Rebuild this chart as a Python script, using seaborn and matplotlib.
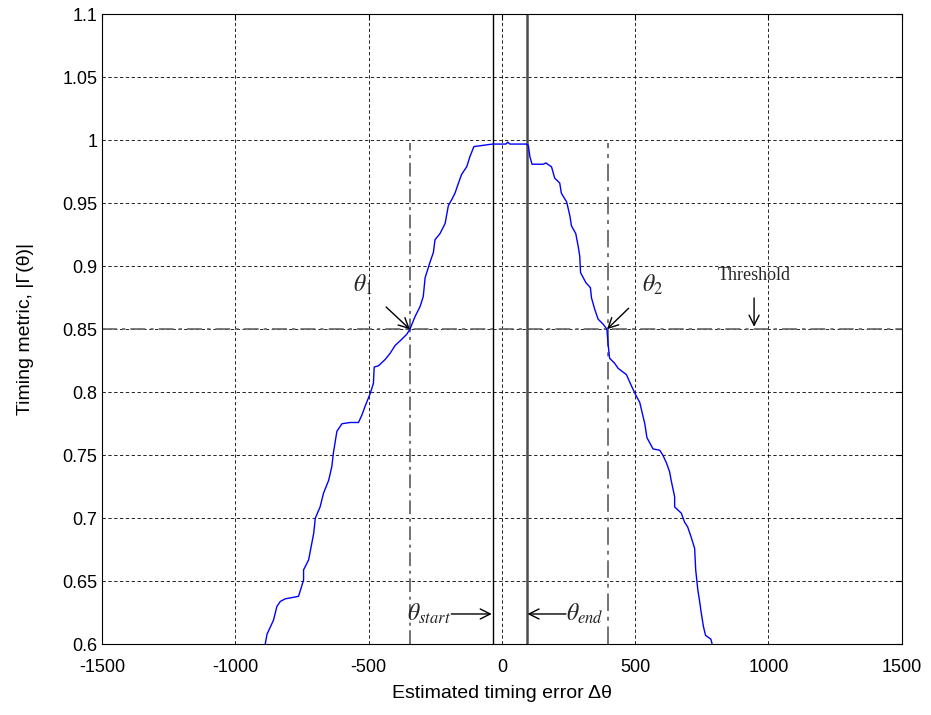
import numpy as np
import pandas as pd
import seaborn as sns
import matplotlib.pyplot as plt

# timing metric curve
curve_x = [-892, -888, -881, -857, -844, -831, -813, -763, -757, -744, -744, -725, -706,
           -700, -682, -669, -650, -638, -632, -619, -600, -569, -538, -525, -513, -494,
           -482, -479, -463, -438, -419, -401, -376, -357, -345, -326, -307, -295, -288,
           -270, -257, -251, -232, -213, -201, -188, -176, -163, -151, -132, -120, -105,
           -70, -35, 15, 22, 30, 92, 99, 105, 113, 155, 165, 186, 198, 217, 223, 243,
           255, 261, 277, 286, 292, 295, 315, 332, 336, 348, 361, 380, 394, 398, 404,
           423, 436, 467, 486, 504, 517, 527, 536, 544, 567, 592, 604, 617, 629, 635,
           648, 648, 673, 685, 697, 710, 723, 727, 735, 741, 747, 756, 764, 784, 791, 795]
curve_y = [0.595, 0.600, 0.608, 0.619, 0.630, 0.634, 0.636, 0.638, 0.642, 0.651, 0.659, 0.667, 0.688,
           0.700, 0.709, 0.720, 0.730, 0.741, 0.752, 0.769, 0.775, 0.776, 0.776, 0.782, 0.789, 0.799,
           0.807, 0.820, 0.821, 0.826, 0.831, 0.837, 0.842, 0.846, 0.850, 0.860, 0.868, 0.876, 0.891,
           0.903, 0.911, 0.921, 0.926, 0.934, 0.948, 0.953, 0.958, 0.966, 0.973, 0.979, 0.987, 0.995,
           0.996, 0.997, 0.997, 0.9985, 0.997, 0.997, 0.996, 0.987, 0.981, 0.981, 0.982, 0.979, 0.970, 0.966, 0.958, 0.951,
           0.940, 0.932, 0.926, 0.916, 0.908, 0.895, 0.887, 0.883, 0.875, 0.866, 0.858, 0.854, 0.850, 0.839, 0.827,
           0.823, 0.819, 0.814, 0.805, 0.797, 0.792, 0.783, 0.775, 0.764, 0.755, 0.754, 0.750, 0.744, 0.737, 0.730,
           0.717, 0.709, 0.704, 0.697, 0.693, 0.685, 0.676, 0.659, 0.643, 0.635, 0.626, 0.614, 0.607, 0.604, 0.598, 0.594]

threshold = 0.85
theta_1 = -345
theta_2 = 397
theta_start = -35
theta_end = 93
peak = 0.998

xticks = [-1500, -1000, -500, 0, 500, 1000, 1500]
yticks = [0.6, 0.65, 0.7, 0.75, 0.8, 0.85, 0.9, 0.95, 1.0, 1.05, 1.1]
ytick_labels = ["0.6", "0.65", "0.7", "0.75", "0.8", "0.85", "0.9", "0.95", "1", "1.05", "1.1"]

sns.set_style("white")
plt.rcParams['font.family'] = ['Liberation Sans', 'DejaVu Sans']
plt.rcParams['mathtext.fontset'] = 'stix'
plt.rcParams['axes.unicode_minus'] = False

df = pd.DataFrame({"x": curve_x, "y": curve_y})

fig = plt.figure(figsize=(9.31, 7.15), dpi=100)
ax = fig.add_axes([0.1096, 0.099, 0.859, 0.881])

sns.lineplot(data=df, x="x", y="y", sort=False, estimator=None, color=(0, 0, 1),
             linewidth=1.0, ax=ax, zorder=3)

ax.set_xlim(-1500, 1500)
ax.set_ylim(0.6, 1.1)
ax.set_xticks(xticks)
ax.set_yticks(yticks)
ax.set_yticklabels(ytick_labels)
ax.grid(True, color='k', linestyle=(0, (4, 3)), linewidth=0.6)
ax.tick_params(direction='in', top=True, right=True, length=4, labelsize=13, colors='k')
ax.tick_params(axis='x', pad=11)
for s in ax.spines.values():
    s.set_color('k')
    s.set_linewidth(0.8)

# threshold and theta markers
dashdot = (0, (9, 3, 2, 3))
ax.axhline(threshold, color='0.4', linestyle=dashdot, linewidth=1.2, zorder=2)
ax.plot([theta_1, theta_1], [0.6, peak], color='0.3', linestyle=dashdot, linewidth=1.1, zorder=2)
ax.plot([theta_2, theta_2], [0.6, peak], color='0.45', linestyle=dashdot, linewidth=1.4, zorder=2)
ax.axvline(theta_start, color='k', linewidth=1.0, zorder=2)
ax.axvline(theta_end, color='0.3', linewidth=1.8, zorder=2)

serif = ['Liberation Serif', 'DejaVu Serif']
arrow = dict(arrowstyle='->', color='k', linewidth=1.0, mutation_scale=18)
ax.annotate(r'$\theta_1$', xy=(theta_1, threshold), xytext=(-522, 0.885),
            fontsize=17, ha='center', va='center', arrowprops=dict(arrow, shrinkA=10, shrinkB=0))
ax.annotate(r'$\theta_2$', xy=(theta_2 - 3, threshold), xytext=(565, 0.885),
            fontsize=17, ha='center', va='center', arrowprops=dict(arrow, shrinkA=10, shrinkB=0))
ax.annotate('Threshold', xy=(946, threshold + 0.002), xytext=(946, 0.893),
            fontsize=13, family=serif, ha='center', va='center',
            arrowprops=dict(arrow, shrinkA=8, shrinkB=0))
ax.annotate('', xy=(theta_start - 3, 0.624), xytext=(-190, 0.624), arrowprops=dict(arrow, shrinkA=0, shrinkB=0))
ax.text(-192, 0.624, r'$\theta_{start}$', fontsize=17, ha='right', va='center')
ax.annotate('', xy=(theta_end + 3, 0.624), xytext=(240, 0.624), arrowprops=dict(arrow, shrinkA=0, shrinkB=0))
ax.text(242, 0.624, r'$\theta_{end}$', fontsize=17, ha='left', va='center')

ax.set_xlabel('Estimated timing error Δθ', fontsize=14, color='k', labelpad=6)
ax.set_ylabel('Timing metric, |Γ(θ)|', fontsize=14, color='k', labelpad=20)

fig.savefig('out.png', dpi=100)
